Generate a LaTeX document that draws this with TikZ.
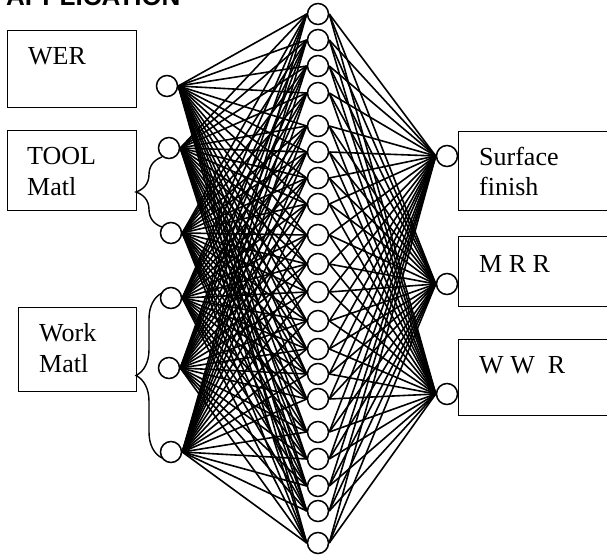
\documentclass[tikz,border=0pt]{standalone}
\usepackage{fontspec}
\setmainfont{Liberation Serif}
\newfontfamily\titlefont{Liberation Sans}
\usetikzlibrary{positioning,decorations.pathreplacing}

\begin{document}
\begin{tikzpicture}[
    x=1pt, y=-1pt,
    neuron/.style={draw, circle, line width=1.5pt, minimum size=21pt,
                   inner sep=0pt, fill=white},
    box/.style={draw, line width=1.4pt, anchor=north west, inner sep=0pt},
    lbl/.style={anchor=base west, align=left, inner sep=0pt,
                font=\fontsize{26}{31}\selectfont},
    link/.style={line width=1.6pt},
    curly/.style={decorate, decoration={brace, amplitude=26pt}, line width=1.4pt}
  ]
    \useasboundingbox (0,0) rectangle (607,556);

    % Title (cut at the top edge)
    \node[anchor=base west, inner sep=0pt,
          font=\titlefont\bfseries\fontsize{26}{30}\selectfont] (title)
      at (6,6) {APPLICATION};

    % Input boxes
    \node[box, minimum width=129pt, minimum height=77pt] (wer) at (7,30) {};
    \node[box, minimum width=129pt, minimum height=80pt] (tool) at (7,130) {};
    \node[box, minimum width=118pt, minimum height=84pt] (work) at (18,307) {};
    \node[lbl] (werlbl) at (28,65) {WER};
    \node[lbl] (toollbl) at (27,195) {TOOL\\Matl};
    \node[lbl] (worklbl) at (39,372) {Work\\Matl};

    % Output boxes
    \node[box, minimum width=157pt, minimum height=79pt] (surf) at (458,131) {};
    \node[box, minimum width=157pt, minimum height=70pt] (mrr) at (458,236) {};
    \node[box, minimum width=157pt, minimum height=76pt] (wwr) at (458,339) {};
    \node[lbl] (surflbl) at (479,196) {Surface\\finish};
    \node[lbl] (mrrlbl) at (479,272) {M R R};
    \node[lbl] (wwrlbl) at (479,373) {W W \ R};

    % Input layer
    \foreach \x/\y [count=\i] in {167/86, 169/148, 171/233, 171/298, 169/368, 171/452}
      \node[neuron] (in\i) at (\x,\y) {};
    % Hidden layer
    \foreach \y [count=\j] in {14,40,66,93,126,152,178,204,235,264,
                               292,321,349,374,399,432,459,486,511,543}
      \node[neuron] (h\j) at (318,\y) {};
    % Output layer
    \foreach \y [count=\k] in {156,284,394}
      \node[neuron] (out\k) at (447,\y) {};

    % Braces
    \draw[curly] (162,227) -- (162,157);
    \draw[curly] (162,458) -- (162,293);

    % Weights
    \foreach \i in {1,...,6}
      \foreach \j in {1,...,20}
        \draw[link] (in\i.east) -- (h\j.west);
    \foreach \j in {1,...,20}
      \foreach \k in {1,2,3}
        \draw[link] (h\j.east) -- (out\k.west);
\end{tikzpicture}
\end{document}
